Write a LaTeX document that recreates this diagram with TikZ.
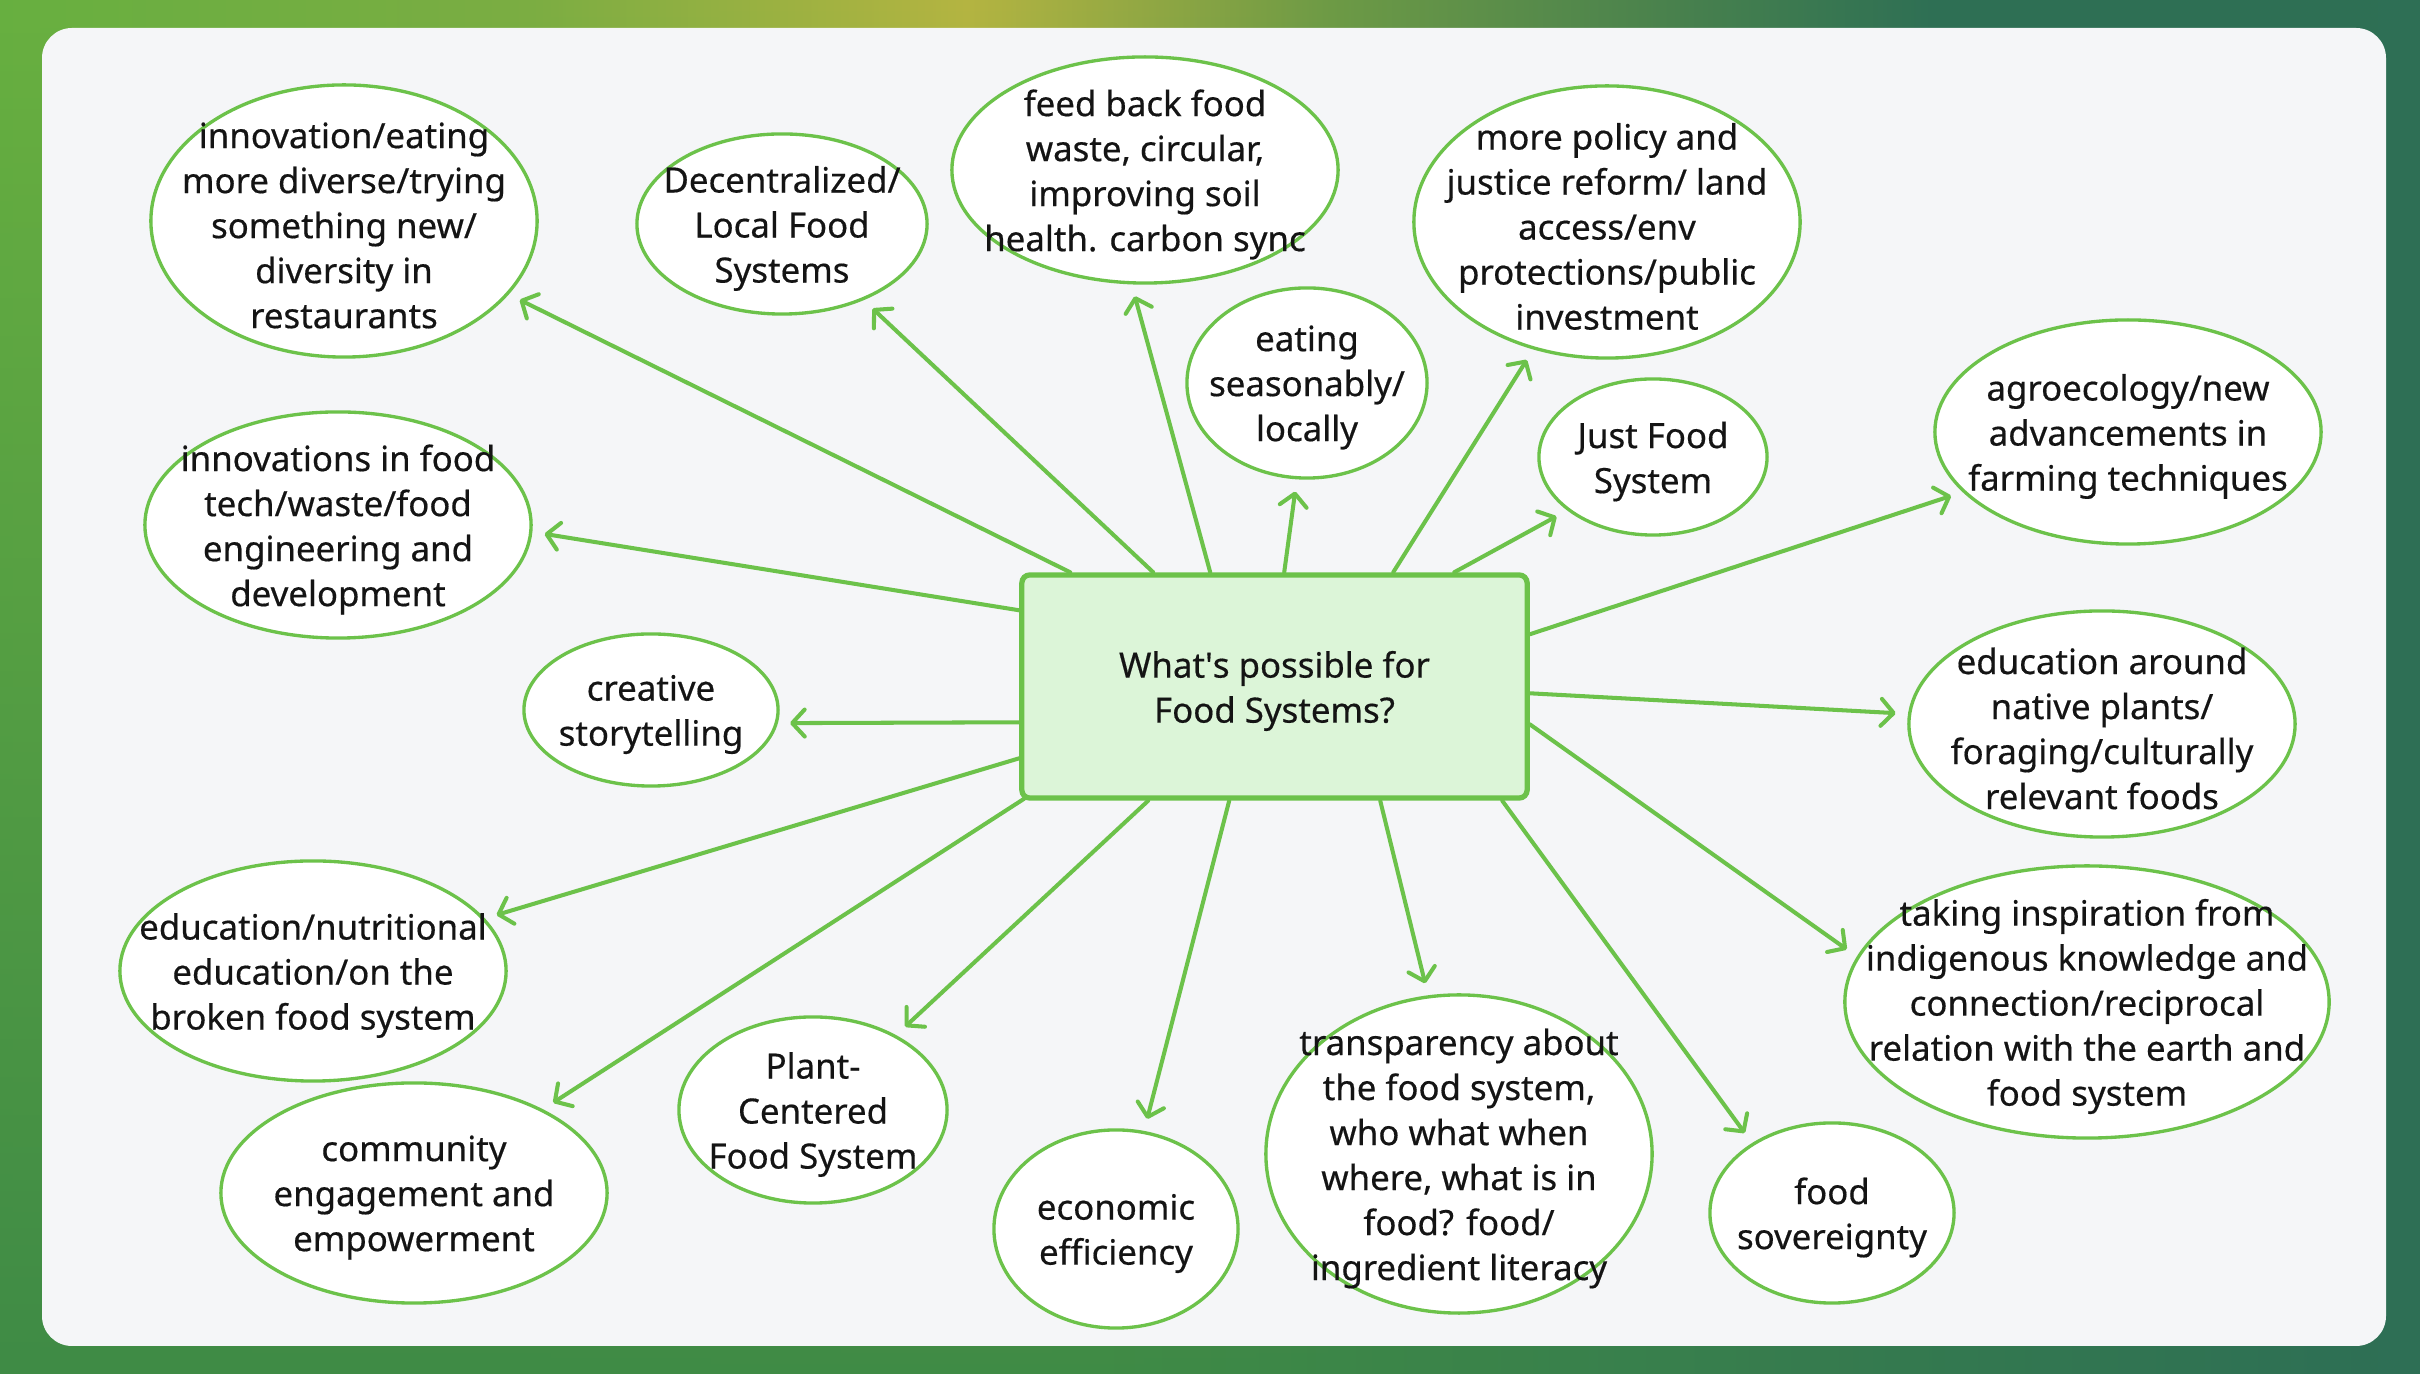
\documentclass[tikz,border=0pt]{standalone}
\usepackage{fontspec}
\setmainfont{Noto Sans}[FakeBold=0.45]
\usetikzlibrary{arrows.meta,calc,fadings,shapes.geometric}
\definecolor{gr}{HTML}{6CC24A}
\definecolor{panel}{HTML}{F5F6F8}
\definecolor{cfill}{HTML}{DCF5D8}
\definecolor{ink}{HTML}{141414}
\definecolor{tA}{HTML}{68B040}
\definecolor{tB}{HTML}{7CAE42}
\definecolor{tC}{HTML}{B5B541}
\definecolor{tD}{HTML}{6E9B45}
\definecolor{tE}{HTML}{2E6F55}
\definecolor{bA}{HTML}{3F8B46}
\definecolor{bB}{HTML}{367C4E}
\definecolor{bC}{HTML}{2E6F55}
\pgfdeclarehorizontalshading{topgrad}{100bp}{color(0bp)=(tA); color(25bp)=(tA); color(36bp)=(tB); color(45bp)=(tC); color(52.5bp)=(tD); color(65bp)=(tE); color(100bp)=(tE)}
\pgfdeclarehorizontalshading{botgrad}{100bp}{color(0bp)=(bA); color(47.5bp)=(bA); color(62.5bp)=(bB); color(75bp)=(bC); color(100bp)=(bC)}
\tikzfading[name=fadedown, top color=transparent!0, bottom color=transparent!100]
\begin{document}
\begin{tikzpicture}[x=0.01cm, y=-0.01cm,
  bub/.style={ellipse, draw=gr, line width=0.95pt, fill=white, inner sep=0pt, outer sep=0pt},
  lab/.style={font=\fontsize{9.9}{12.8}\selectfont, text=ink, align=center, inner sep=0pt, yshift=-0.045cm},
  arr/.style={draw=gr, line width=1.15pt, line cap=round, -{Straight Barb[length=1.25mm,width=2.7mm,round]}, shorten >=0.14cm}]
\useasboundingbox (0,0) rectangle (2420,1374);
\shade[shading=botgrad] (0,0) rectangle (2420,1374);
\shade[shading=topgrad, path fading=fadedown] (0,0) rectangle (2420,1374);
\fill[panel, rounded corners=0.3cm] (42,28) rectangle (2386,1346);

\node[rectangle, rounded corners=0.8mm, draw=gr, line width=1.5pt, fill=cfill, minimum width=5.05cm, minimum height=2.23cm, label={[lab]center:{What\textquotesingle s possible for\\Food Systems?}}] (c) at (1274.5,686.5) {};

\node[bub, minimum width=3.86cm, minimum height=2.72cm, label={[lab]center:{innovation/eating\\more diverse/trying\\something new/\\diversity in\\restaurants}}] (n1) at (344,221) {};
\node[bub, minimum width=2.90cm, minimum height=1.80cm, label={[lab]center:{Decentralized/\\Local Food\\Systems}}] (n2) at (782,224) {};
\node[bub, minimum width=3.86cm, minimum height=2.26cm, label={[lab]center:{feed back food\\waste, circular,\\improving soil\\health. carbon sync}}] (n3) at (1145,170) {};
\node[bub, minimum width=3.86cm, minimum height=2.72cm, label={[lab]center:{more policy and\\justice reform/ land\\access/env\\protections/public\\investment}}] (n4) at (1607,222) {};
\node[bub, minimum width=2.40cm, minimum height=1.90cm, label={[lab]center:{eating\\seasonably/\\locally}}] (n5) at (1307,383) {};
\node[bub, minimum width=2.28cm, minimum height=1.56cm, label={[lab]center:{Just Food\\System}}] (n6) at (1653,457) {};
\node[bub, minimum width=3.86cm, minimum height=2.24cm, label={[lab]center:{agroecology/new\\advancements in\\farming techniques}}] (n7) at (2128,432) {};
\node[bub, minimum width=3.86cm, minimum height=2.26cm, label={[lab]center:{innovations in food\\tech/waste/food\\engineering and\\development}}] (n8) at (338,525) {};
\node[bub, minimum width=2.54cm, minimum height=1.52cm, label={[lab]center:{creative\\storytelling}}] (n9) at (651,710) {};
\node[bub, minimum width=3.86cm, minimum height=2.26cm, label={[lab]center:{education around\\native plants/\\foraging/culturally\\relevant foods}}] (n10) at (2102,724) {};
\node[bub, minimum width=3.86cm, minimum height=2.20cm, label={[lab]center:{education/nutritional\\education/on the\\broken food system}}] (n11) at (313,971) {};
\node[bub, minimum width=4.84cm, minimum height=2.72cm, label={[lab]center:{taking inspiration from\\indigenous knowledge and\\connection/reciprocal\\relation with the earth and\\food system}}] (n12) at (2087,1002) {};
\node[bub, minimum width=3.86cm, minimum height=2.20cm, label={[lab]center:{community\\engagement and\\empowerment}}] (n13) at (414,1193) {};
\node[bub, minimum width=2.68cm, minimum height=1.86cm, label={[lab]center:{Plant-\\Centered\\Food System}}] (n14) at (813,1110) {};
\node[bub, minimum width=2.44cm, minimum height=1.98cm, label={[lab]center:{economic\\efficiency}}] (n15) at (1116,1229) {};
\node[bub, minimum width=3.86cm, minimum height=3.18cm, label={[lab]center:{transparency about\\the food system,\\who what when\\where, what is in\\food? food/\\ingredient literacy}}] (n16) at (1459,1154) {};
\node[bub, minimum width=2.44cm, minimum height=1.80cm, label={[lab]center:{food\\sovereignty}}] (n17) at (1832,1213) {};

% top side
\draw[arr] ($(c.north west)+(51,0)$) -- (n1.336);
\draw[arr] ($(c.north west)+(134,0)$) -- (n2.317);
\draw[arr] ($(c.north west)+(191,0)$) -- (n3.263);
\draw[arr] ($(c.north west)+(265,0)$) -- (n5.264);
\draw[arr] ($(c.north west)+(374,0)$) -- (n4.240);
\draw[arr] ($(c.north west)+(435,0)$) -- (n6.212);
% right side
\draw[arr] ($(c.north east)+(0,62)$) -- (n7.200);
\draw[arr] ($(c.north east)+(0,121)$) -- (n10.177);
\draw[arr] ($(c.north east)+(0,152)$) -- (n12.169);
% bottom side
\draw[arr] ($(c.south west)+(483,0)$) -- (n17.139);
\draw[arr] ($(c.south west)+(361,0)$) -- (n16.101);
\draw[arr] ($(c.south west)+(210,0)$) -- (n15.74);
\draw[arr] ($(c.south west)+(129,0)$) -- (n14.42);
\draw[arr] ($(c.south west)+(5,-2)$) -- (n13.33);
% left side
\draw[arr] ($(c.north west)+(0,186)$) -- (n11.17);
\draw[arr] ($(c.north west)+(0,150)$) -- (n9.354);
\draw[arr] ($(c.north west)+(0,38)$) -- (n8.358);
\end{tikzpicture}
\end{document}
